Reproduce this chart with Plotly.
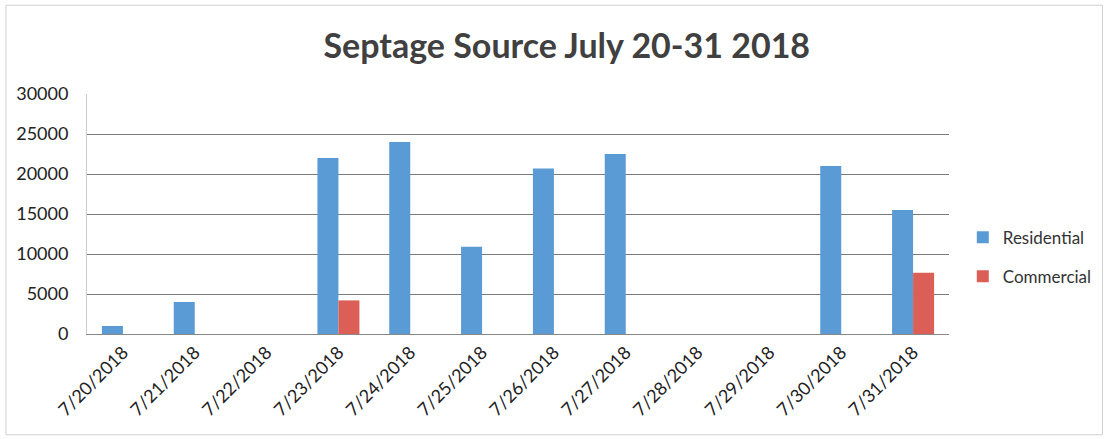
import plotly.graph_objects as go

dates = ["7/20/2018", "7/21/2018", "7/22/2018", "7/23/2018", "7/24/2018", "7/25/2018",
         "7/26/2018", "7/27/2018", "7/28/2018", "7/29/2018", "7/30/2018", "7/31/2018"]
residential = [1000, 4000, 0, 22000, 24000, 10900, 20700, 22500, 0, 0, 21000, 15500]
commercial = [0, 0, 0, 4200, 0, 0, 0, 0, 0, 0, 0, 7650]
y_ticks = [0, 5000, 10000, 15000, 20000, 25000, 30000]

FONT = "Lato, Open Sans, sans-serif"

fig = go.Figure()
fig.add_trace(go.Bar(x=dates, y=residential, name="Residential", marker_color="#5B9BD5",
                     marker_line_width=0, legendgroup="r"))
fig.add_trace(go.Bar(x=dates, y=commercial, name="Commercial", marker_color="#DB5F57",
                     marker_line_width=0, legendgroup="c"))

fig.update_layout(
    width=1107, height=439,
    margin=dict(l=87, r=158, t=94, b=105, autoexpand=False),
    paper_bgcolor="white", plot_bgcolor="white",
    barmode="group", bargap=0.415, bargroupgap=0,
    title=dict(text="<b>Septage Source July 20-31 2018</b>", x=0.512, xanchor="center",
               y=0.895, yanchor="middle",
               font=dict(family=FONT, size=34, color="#404040")),
    font=dict(family=FONT, size=18, color="#222222"),
    legend=dict(x=1.016, xanchor="left", y=0.32, yanchor="middle",
                font=dict(family=FONT, size=17, color="#333333"),
                itemwidth=30, tracegroupgap=14, bgcolor="rgba(0,0,0,0)"),
    showlegend=True,
)
fig.update_xaxes(tickangle=-45, showgrid=False, showline=True, linecolor="#888888",
                 linewidth=1, ticks="", tickfont=dict(family=FONT, size=18, color="#222222"))
fig.update_yaxes(range=[0, 30000], tickvals=y_ticks, ticktext=[str(v) for v in y_ticks],
                 showgrid=True, gridcolor="#7a7a7a", gridwidth=1, zeroline=False,
                 showline=True, linecolor="#cccccc", linewidth=1, ticks="",
                 ticklabelstandoff=14,
                 tickfont=dict(family=FONT, size=18, color="#222222"))

fig.add_shape(type="rect", xref="paper", yref="paper", x0=-0.094, x1=1.178, y0=-0.42, y1=1.37,
              line=dict(color="#d0d0d0", width=1), fillcolor="rgba(0,0,0,0)", layer="below")

fig.write_html("out.html")
